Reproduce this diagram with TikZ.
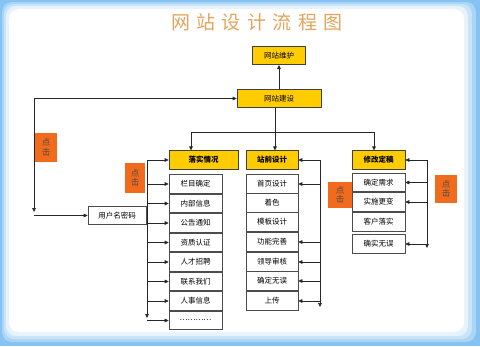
\documentclass[tikz,border=0pt]{standalone}
\usepackage{fontspec}
\setmainfont{Noto Sans CJK SC}
\usetikzlibrary{arrows.meta,positioning}
\definecolor{frameblue}{HTML}{86C3F2}
\definecolor{boxyellow}{HTML}{FFCC00}
\definecolor{clickorange}{HTML}{F26A1B}
\definecolor{titletan}{HTML}{E3A45C}

\begin{document}
\begin{tikzpicture}[x=1pt,y=-1pt]
\tikzset{
  headbox/.style={draw=black!75,fill=boxyellow,line width=0.6pt,minimum height=18.5pt,inner sep=0pt,font=\fontsize{7.5}{8}\selectfont},
  sectionbox/.style={headbox,font=\fontsize{7.5}{8}\selectfont\bfseries},
  itembox/.style={draw=black!70,fill=white,line width=0.6pt,minimum width=53pt,minimum height=18.5pt,inner sep=0pt,font=\fontsize{7.5}{8}\selectfont},
  clickbox/.style={fill=clickorange,inner sep=0pt,align=center,font=\fontsize{8.5}{9.5}\selectfont,text=black!70},
  link/.style={draw=black!85,line width=0.6pt},
  directed/.style={link,-{Triangle[length=4pt,width=3.6pt]}}
}
% frame
\fill[frameblue] (0,0) rectangle (480,346);
\fill[frameblue!70!white,rounded corners=10pt] (2,2) rectangle (476,342);
\fill[frameblue!45!white,rounded corners=10pt] (4,4) rectangle (472,339);
\fill[frameblue!20!white,rounded corners=10pt] (6,6) rectangle (468,336);
\fill[white,rounded corners=10pt] (9,9) rectangle (464,332);
\node[font=\fontsize{19}{19}\selectfont,text=titletan] (n_title) at (257,22) {网\hspace{6.5pt}站\hspace{6.5pt}设\hspace{6.5pt}计\hspace{6.5pt}流\hspace{6.5pt}程\hspace{6.5pt}图};
% top
\node[headbox,minimum width=53pt] (n_weihu) at (279,55.5) {网站维护};
\node[headbox,minimum width=84pt] (n_jianshe) at (279,98.5) {网站建设};
\node[sectionbox,minimum width=69pt] (n_luoshi) at (203.5,160) {落实情况};
\node[sectionbox,minimum width=52pt] (n_zhanqian) at (272,160) {站前设计};
\node[sectionbox,minimum width=53pt] (n_xiugai) at (378.5,160) {修改定稿};
% left column
\node[itembox] (n_l1) at (195.5,184) {栏目确定};
\node[itembox] (n_l2) at (195.5,203.5) {内部信息};
\node[itembox] (n_l3) at (195.5,223) {公告通知};
\node[itembox] (n_l4) at (195.5,242.5) {资质认证};
\node[itembox] (n_l5) at (195.5,262) {人才招聘};
\node[itembox] (n_l6) at (195.5,281.5) {联系我们};
\node[itembox] (n_l7) at (195.5,301) {人事信息};
\node[itembox] (n_l8) at (195.5,320.5) {…………};
\node[itembox,minimum width=58pt] (n_yonghu) at (117,215.5) {用户名密码};
% middle column
\node[itembox,minimum width=52pt] (n_m1) at (272,184) {首页设计};
\node[itembox,minimum width=52pt] (n_m2) at (272,203) {着色};
\node[itembox,minimum width=52pt] (n_m3) at (272,222) {模板设计};
\node[itembox,minimum width=52pt] (n_m4) at (272,242) {功能完善};
\node[itembox,minimum width=52pt] (n_m5) at (272,262) {领导审核};
\node[itembox,minimum width=52pt] (n_m6) at (272,281) {确定无误};
\node[itembox,minimum width=52pt] (n_m7) at (272,301) {上传};
% right column
\node[itembox] (n_r1) at (378.5,182.5) {确定需求};
\node[itembox] (n_r2) at (378.5,202) {实施更变};
\node[itembox] (n_r3) at (378.5,222) {客户落实};
\node[itembox] (n_r4) at (378.5,244) {确实无误};
% click labels
\node[clickbox,minimum width=22pt,minimum height=29pt] (n_click1) at (46,147.5) {点\\击};
\node[clickbox,minimum width=20pt,minimum height=30pt] (n_click2) at (135,178) {点\\击};
\node[clickbox,minimum width=24pt,minimum height=26pt] (n_click3) at (340,195) {点\\击};
\node[clickbox,minimum width=22pt,minimum height=28pt] (n_click4) at (446,189) {点\\击};
% coordinates
\coordinate (c_loop) at (34,98.5);
\coordinate (c_loopend) at (34,212);
\coordinate (c_bus) at (191,132);
\coordinate (c_busend) at (374,132);
\coordinate (c_lbus) at (147,160);
\coordinate (c_lbusend) at (147,318);
\coordinate (c_mbus) at (320,160);
\coordinate (c_mbusend) at (320,307);
\coordinate (c_rbus) at (427,160);
\coordinate (c_rbusend) at (427,248);
% connectors
\draw[directed] (n_jianshe) -- (n_weihu);
\draw[directed] (c_loop) -- (n_jianshe);
\draw[directed] (c_loop) -- (c_loopend);
\draw[directed] (c_loop |- n_yonghu) -- (n_yonghu);
\draw[link] (c_bus) -- (c_busend);
\draw[directed] (n_jianshe.south -| 275,0) -- (275,0 |- n_zhanqian.north);
\draw[directed] (c_bus) -- (c_bus |- n_luoshi.north);
\draw[directed] (c_busend) -- (c_busend |- n_xiugai.north);
\draw[directed] (c_lbus) -- (c_lbusend);
\draw[directed] (c_lbus |- n_luoshi) -- (n_luoshi);
\draw[directed] (c_lbus |- n_l1) -- (n_l1);
\draw[directed] (c_lbus |- n_l2) -- (n_l2);
\draw[directed] (c_lbus |- n_l3) -- (n_l3);
\draw[directed] (c_lbus |- n_l4) -- (n_l4);
\draw[directed] (c_lbus |- n_l5) -- (n_l5);
\draw[directed] (c_lbus |- n_l6) -- (n_l6);
\draw[directed] (c_lbus |- n_l7) -- (n_l7);
\draw[directed] (c_lbus |- n_l8) -- (n_l8);
\draw[directed] (c_mbus) -- (c_mbusend);
\draw[directed] (c_mbus |- n_zhanqian) -- (n_zhanqian);
\draw[directed] (c_mbus |- n_m1) -- (n_m1);
\draw[directed] (c_mbus |- n_m4) -- (n_m4);
\draw[directed] (c_mbus |- n_m5) -- (n_m5);
\draw[directed] (c_mbus |- n_m6) -- (n_m6);
\draw[directed] (c_mbus |- n_m7) -- (n_m7);
\draw[directed] (c_rbus) -- (c_rbusend);
\draw[directed] (c_rbus |- n_xiugai) -- (n_xiugai);
\draw[directed] (c_rbus |- n_r1) -- (n_r1);
\draw[directed] (c_rbus |- n_r2) -- (n_r2);
\draw[directed] (c_rbus |- n_r4) -- (n_r4);
\end{tikzpicture}
\end{document}
